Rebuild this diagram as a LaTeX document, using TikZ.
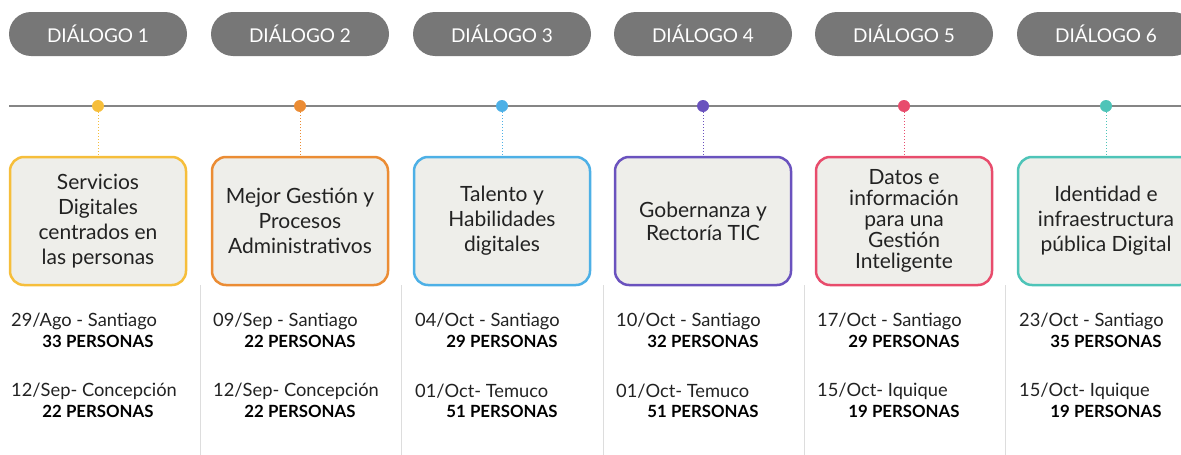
\documentclass[tikz,border=0pt]{standalone}
\usepackage{fontspec}
\setmainfont{Lato}
\definecolor{pillgray}{HTML}{777777}
\definecolor{linegray}{HTML}{858585}
\definecolor{sepgray}{HTML}{DDDDDD}
\definecolor{boxfill}{HTML}{EEEEEA}
\definecolor{txt}{HTML}{222222}
\definecolor{dlgyellow}{HTML}{F6BE3B}
\definecolor{dlgorange}{HTML}{EB8C34}
\definecolor{dlgblue}{HTML}{4DB0E6}
\definecolor{dlgpurple}{HTML}{6A52BE}
\definecolor{dlgpink}{HTML}{E84C6C}
\definecolor{dlgteal}{HTML}{4EC4B8}
\tikzset{
    pill/.style={rectangle, rounded corners=22pt, fill=pillgray, text=white,
        minimum width=178pt, minimum height=44pt, inner sep=0pt,
        font=\fontsize{19}{22}\selectfont},
    topic/.style={rectangle, rounded corners=14pt, fill=boxfill, line width=2.5pt,
        minimum width=176pt, minimum height=128pt, inner sep=0pt, align=center, text=txt,
        font=\fontsize{21}{25}\selectfont},
    datetext/.style={anchor=west, inner sep=0pt, text=txt, font=\fontsize{18.3}{20}\selectfont},
    counttext/.style={inner sep=0pt, text=black, font=\fontsize{16.8}{20}\selectfont\bfseries},
}
\begin{document}
\begin{tikzpicture}[x=1pt, y=-1pt]
    \useasboundingbox (0, 0) rectangle (1181, 455);
    \coordinate (tlstart) at (9, 106);
    \coordinate (tlend) at (1181, 106);
    \draw[linegray, line width=2pt] (tlstart) -- (tlend);
    % separators between the columns
    \foreach \sx in {200, 401, 603, 804, 1005}
        \draw[sepgray, line width=0.8pt] (\sx, 285) -- (\sx, 455);
    \foreach \i/\cx/\col/\title/\dA/\nA/\dB/\nB in {
        1/98/dlgyellow/{Servicios\\Digitales\\centrados en\\las personas}/{29/Ago - Santiago}/33/{12/Sep- Concepción}/22,
        2/300/dlgorange/{Mejor Gestión y\\Procesos\\Administrativos}/{09/Sep - Santiago}/22/{12/Sep- Concepción}/22,
        3/502/dlgblue/{Talento y\\Habilidades\\digitales}/{04/Oct - Santiago}/29/{01/Oct- Temuco}/51,
        4/703/dlgpurple/{Gobernanza y\\[-2pt]Rectoría TIC}/{10/Oct - Santiago}/32/{01/Oct- Temuco}/51,
        5/904/dlgpink/{Datos e\\[-4pt]información\\[-4pt]para una\\[-4pt]Gestión\\[-4pt]Inteligente}/{17/Oct - Santiago}/29/{15/Oct- Iquique}/19,
        6/1106/dlgteal/{Identidad e\\infraestructura\\pública Digital}/{23/Oct - Santiago}/35/{15/Oct- Iquique}/19}
    {
        \node[pill] (pill\i) at (\cx, 34) {DIÁLOGO \i};
        \node[circle, fill=\col, minimum size=12pt, inner sep=0pt] (dot\i) at (\cx, 106) {};
        \node[topic, draw=\col] (box\i) at (\cx, 221) {\title};
        \draw[\col, dotted, line width=1pt] (dot\i) -- (box\i);
        \node[datetext] (dateA\i) at (\cx - 87, 321) {\dA};
        \node[counttext] (countA\i) at (\cx, 341) {\nA{} PERSONAS};
        \node[datetext] (dateB\i) at (\cx - 87, 391) {\dB};
        \node[counttext] (countB\i) at (\cx, 411) {\nB{} PERSONAS};
    }
\end{tikzpicture}
\end{document}
